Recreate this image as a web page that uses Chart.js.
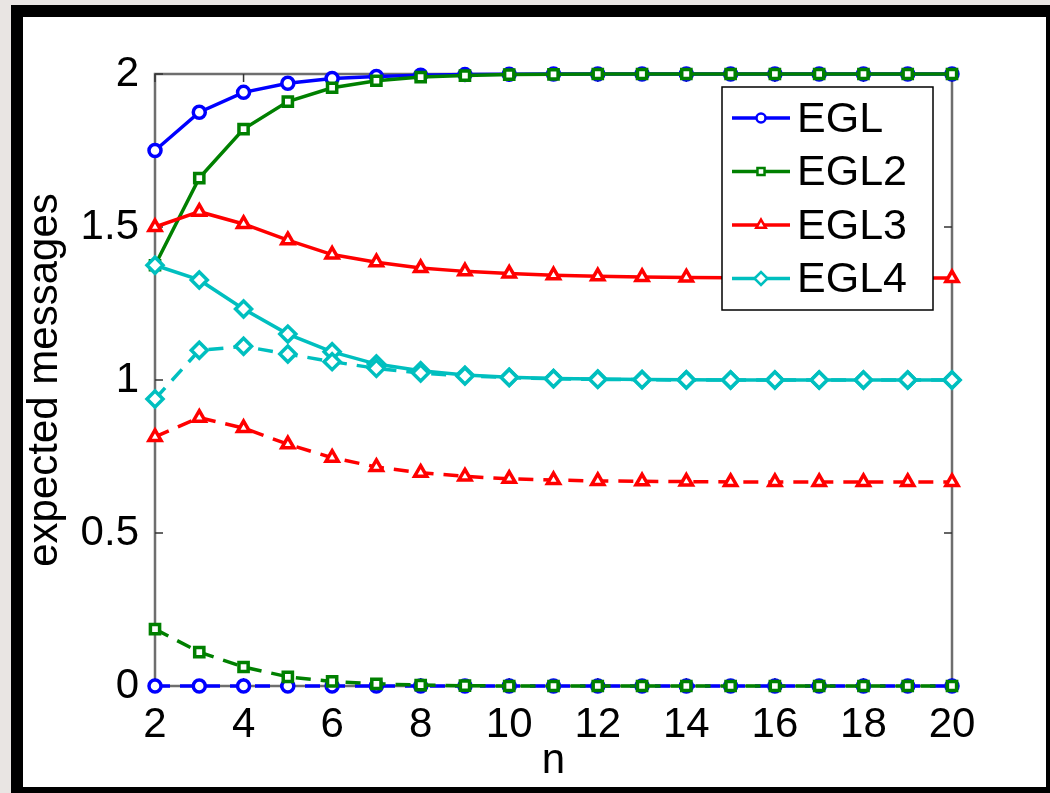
<!DOCTYPE html>
<html lang="en">
<head>
    <meta charset="UTF-8">
    <title>expected messages vs n</title>
    <script src="https://cdn.jsdelivr.net/npm/chart.js@4.4.0/dist/chart.umd.min.js"></script>
    <style>
        html, body {
            margin: 0;
            padding: 0;
            width: 1050px;
            height: 793px;
            overflow: hidden;
            background: #e9e5e3;
        }
        #frame {
            position: absolute;
            left: 11px;
            top: 5px;
            right: 0;
            bottom: 0;
            box-sizing: border-box;
            border-left: 12px solid #000;
            border-top: 12px solid #000;
            border-right: 4px solid #000;
            border-bottom: 6px solid #000;
            background: #fff;
        }
        #wrap {
            position: absolute;
            left: 0;
            top: 0;
            width: 1050px;
            height: 793px;
        }
    </style>
</head>
<body>
<div id="frame"></div>
<div id="wrap"><canvas id="chart" width="1050" height="793"></canvas></div>

<script>
    // x values
    const nValues = [2, 3, 4, 5, 6, 7, 8, 9, 10, 11, 12, 13, 14, 15, 16, 17, 18, 19, 20];

    // solid lines (shown in the legend)
    const eglSolid  = [1.75, 1.875, 1.94, 1.97, 1.985, 1.992, 1.996, 1.998, 1.999, 2, 2, 2, 2, 2, 2, 2, 2, 2, 2];
    const egl2Solid = [1.375, 1.66, 1.82, 1.91, 1.955, 1.978, 1.99, 1.995, 1.998, 1.999, 2, 2, 2, 2, 2, 2, 2, 2, 2];
    const egl3Solid = [1.5, 1.55, 1.51, 1.457, 1.41, 1.385, 1.366, 1.355, 1.348, 1.342, 1.339, 1.337, 1.335, 1.334, 1.334, 1.333, 1.333, 1.333, 1.333];
    const egl4Solid = [1.375, 1.327, 1.232, 1.15, 1.092, 1.052, 1.03, 1.016, 1.009, 1.005, 1.003, 1.002, 1.001, 1, 1, 1, 1, 1, 1];

    // dashed lines
    const eglDashed  = [0, 0, 0, 0, 0, 0, 0, 0, 0, 0, 0, 0, 0, 0, 0, 0, 0, 0, 0];
    const egl2Dashed = [0.186, 0.111, 0.062, 0.03, 0.015, 0.007, 0.003, 0.001, 0, 0, 0, 0, 0, 0, 0, 0, 0, 0, 0];
    const egl3Dashed = [0.814, 0.877, 0.843, 0.79, 0.746, 0.716, 0.697, 0.685, 0.677, 0.673, 0.67, 0.669, 0.668, 0.667, 0.667, 0.667, 0.667, 0.667, 0.667];
    const egl4Dashed = [0.938, 1.097, 1.11, 1.085, 1.06, 1.038, 1.023, 1.013, 1.008, 1.004, 1.002, 1.001, 1, 1, 1, 1, 1, 1, 1];

    const seriesNames = ['EGL', 'EGL2', 'EGL3', 'EGL4'];
    const xTicks = [2, 4, 6, 8, 10, 12, 14, 16, 18, 20];
    const yTicks = [0, 0.5, 1, 1.5, 2];

    const FONT = '"Liberation Sans", Arial, Helvetica, sans-serif';
    Chart.defaults.font.family = FONT;
    Chart.defaults.font.size = 42;
    Chart.defaults.color = '#000';

    const colors = ['#0000ff', '#008000', '#ff0000', '#00bfbf'];
    const styles = [
        { pointStyle: 'circle', radius: 6 },
        { pointStyle: 'rect', radius: 6.5 },
        { pointStyle: 'triangle', radius: 7 },
        { pointStyle: 'rectRot', radius: 8 }
    ];

    function pts(arr) {
        return nValues.map((n, i) => ({ x: n, y: arr[i] }));
    }

    function makeSet(i, arr, dashed, order) {
        return {
            label: seriesNames[i] + (dashed ? ' (dashed)' : ''),
            data: pts(arr),
            borderColor: colors[i],
            backgroundColor: '#fff',
            borderWidth: 3.5,
            borderDash: dashed ? [15, 10] : [],
            pointStyle: styles[i].pointStyle,
            pointRadius: styles[i].radius,
            pointBorderColor: colors[i],
            pointBackgroundColor: '#fff',
            pointBorderWidth: 3.5,
            tension: 0,
            clip: false,
            order: order
        };
    }

    // later-plotted series sit on top (lower order = drawn later)
    const datasets = [
        makeSet(0, eglSolid, false, 8),
        makeSet(0, eglDashed, true, 7),
        makeSet(1, egl2Solid, false, 6),
        makeSet(1, egl2Dashed, true, 5),
        makeSet(2, egl3Solid, false, 4),
        makeSet(2, egl3Dashed, true, 3),
        makeSet(3, egl4Solid, false, 2),
        makeSet(3, egl4Dashed, true, 1)
    ];

    // matlab-ish box with inward ticks
    const boxPlugin = {
        id: 'box',
        beforeDatasetsDraw(chart) {
            const { ctx, chartArea: a, scales } = chart;
            ctx.save();
            ctx.strokeStyle = '#6e6e6e';
            ctx.lineWidth = 2.5;
            ctx.strokeRect(a.left, a.top, a.right - a.left, a.bottom - a.top);
            ctx.strokeStyle = '#333';
            ctx.lineWidth = 1.5;
            ctx.beginPath();
            xTicks.forEach(v => {
                const px = scales.x.getPixelForValue(v);
                ctx.moveTo(px, a.bottom); ctx.lineTo(px, a.bottom - 8);
                ctx.moveTo(px, a.top); ctx.lineTo(px, a.top + 8);
            });
            yTicks.forEach(v => {
                const py = scales.y.getPixelForValue(v);
                ctx.moveTo(a.left, py); ctx.lineTo(a.left + 8, py);
                ctx.moveTo(a.right, py); ctx.lineTo(a.right - 8, py);
            });
            ctx.stroke();
            ctx.restore();
        },
        afterDraw(chart) {
            const { ctx } = chart;
            const bx = 722, by = 87, bw = 211, bh = 223;
            ctx.save();
            ctx.fillStyle = '#fff';
            ctx.fillRect(bx, by, bw, bh);
            ctx.strokeStyle = '#000';
            ctx.lineWidth = 1.5;
            ctx.strokeRect(bx, by, bw, bh);
            seriesNames.forEach((name, i) => {
                const y = by + 31 + i * 53.5;
                ctx.strokeStyle = colors[i];
                ctx.lineWidth = 3.5;
                ctx.setLineDash([]);
                ctx.beginPath();
                ctx.moveTo(bx + 10, y);
                ctx.lineTo(bx + 68, y);
                ctx.stroke();
                ctx.fillStyle = '#fff';
                ctx.lineWidth = 2.5;
                Chart.helpers.drawPoint(ctx, {
                    pointStyle: styles[i].pointStyle,
                    radius: styles[i].radius - 1.5,
                    borderWidth: 2.5,
                    rotation: 0
                }, bx + 39, y);
                ctx.fillStyle = '#000';
                ctx.font = '43px ' + FONT;
                ctx.textBaseline = 'middle';
                ctx.textAlign = 'left';
                ctx.fillText(name, bx + 75, y + 2);
            });
            ctx.restore();
        }
    };

    new Chart(document.getElementById('chart'), {
        type: 'line',
        data: { datasets: datasets },
        options: {
            responsive: false,
            animation: false,
            layout: { padding: { left: 20, right: 98, top: 74, bottom: 6 } },
            plugins: {
                legend: { display: false },
                tooltip: { enabled: false }
            },
            scales: {
                x: {
                    type: 'linear',
                    min: 2,
                    max: 20,
                    grid: { display: false },
                    border: { display: false },
                    ticks: { stepSize: 2, padding: 6, maxRotation: 0, autoSkip: false },
                    title: { display: true, text: 'n', padding: 0 },
                    afterFit(scale) { scale.height = 101; }
                },
                y: {
                    min: 0,
                    max: 2,
                    grid: { display: false },
                    border: { display: false },
                    ticks: { stepSize: 0.5, padding: 8, callback: v => String(v) },
                    title: { display: true, text: 'expected messages', padding: 0 },
                    afterFit(scale) { scale.width = 135; }
                }
            }
        },
        plugins: [boxPlugin]
    });
</script>
</body>
</html>
